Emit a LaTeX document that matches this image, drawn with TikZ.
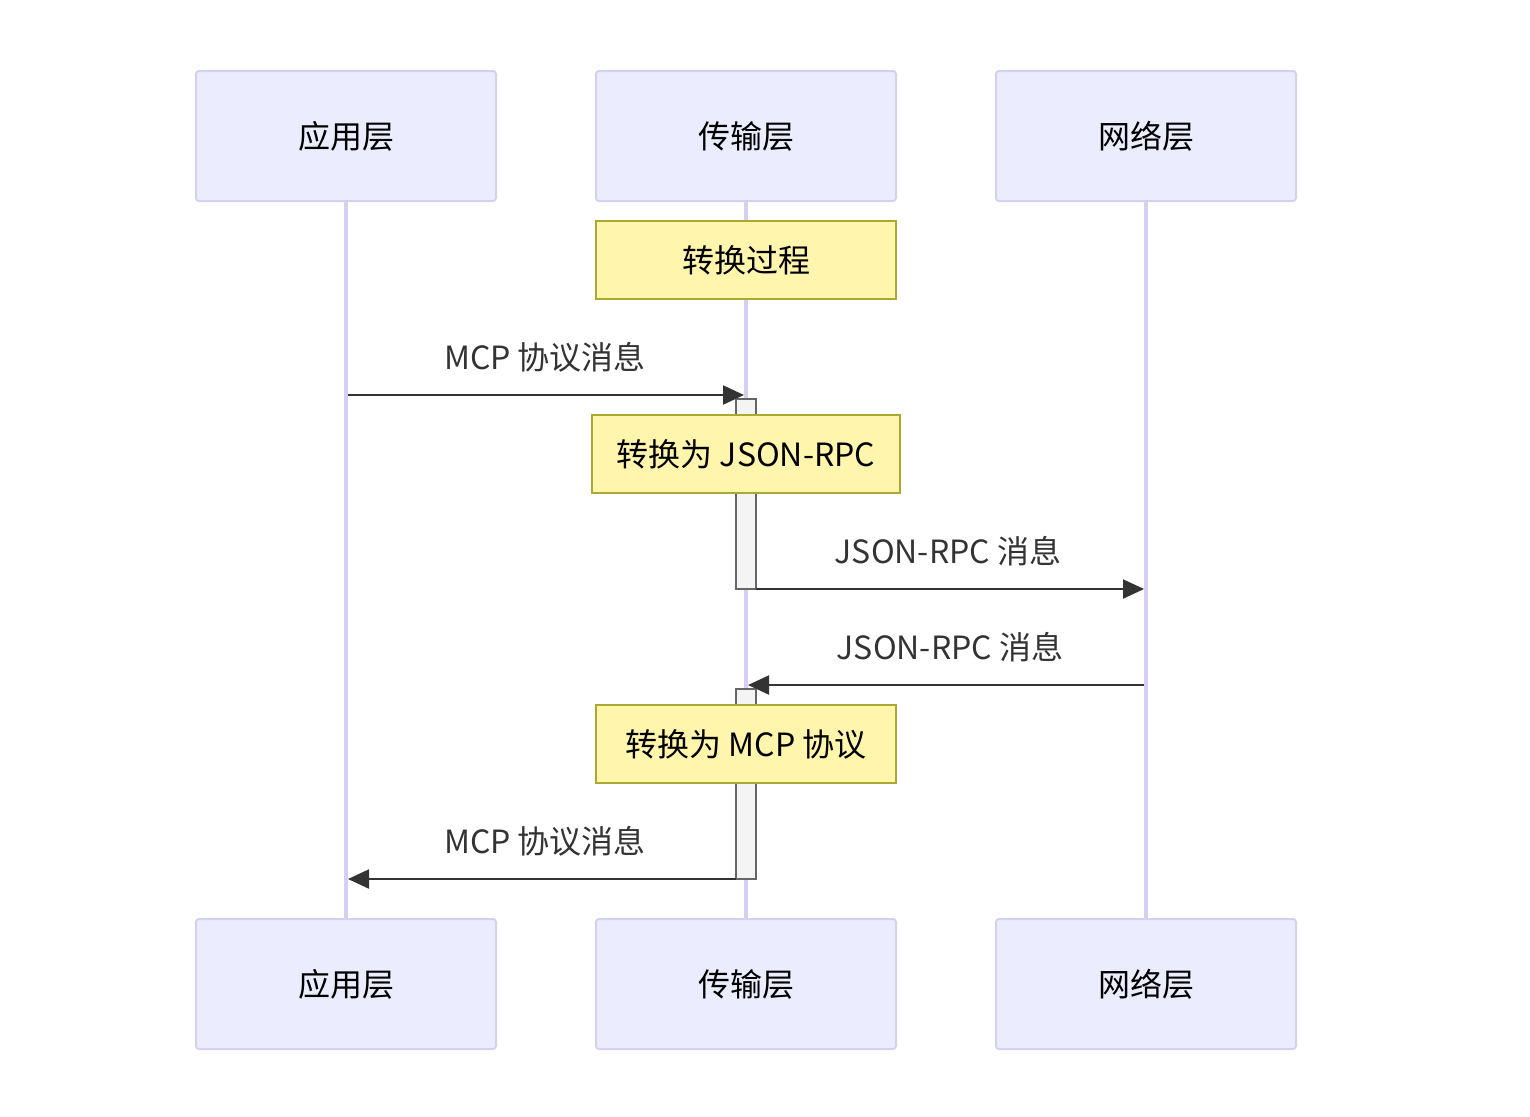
\documentclass[tikz,border=0pt]{standalone}
\usepackage{fontspec}
\setmainfont{Noto Sans CJK SC}
\usetikzlibrary{arrows.meta}
\definecolor{actfill}{HTML}{ECECFF}
\definecolor{actline}{HTML}{D6D0F0}
\definecolor{lifeline}{HTML}{D8CFF0}
\definecolor{notefill}{HTML}{FFF5AD}
\definecolor{noteline}{HTML}{AAAA33}
\definecolor{actvfill}{HTML}{F4F4F4}
\definecolor{actvline}{HTML}{666666}
\definecolor{msgline}{HTML}{333333}
\tikzset{
  actor/.style={draw=actline, fill=actfill, line width=1pt, rounded corners=1.5pt,
    minimum width=150pt, minimum height=65pt, inner sep=0pt, font=\fontsize{16}{18}\selectfont, text=black},
  notebox/.style={draw=noteline, fill=notefill, line width=0.8pt,
    minimum height=39pt, inner sep=0pt, font=\fontsize{16}{18}\selectfont, text=black},
  actv/.style={draw=actvline, fill=actvfill, line width=0.8pt, minimum width=10pt, inner sep=0pt},
  life/.style={draw=lifeline, line width=1.7pt},
  msg/.style={draw=msgline, line width=1.1pt, -{Triangle[length=10.5pt,width=9.5pt]}},
  lbl/.style={font=\fontsize{16}{18}\selectfont, text=msgline, inner sep=0pt}
}
\begin{document}
\begin{tikzpicture}[x=0.5pt,y=-0.5pt]
\useasboundingbox (0,0) rectangle (1530,1116);
% lifelines
\coordinate (l1t) at (346,201); \coordinate (l1b) at (346,919);
\coordinate (l2t) at (746,201); \coordinate (l2b) at (746,919);
\coordinate (l3t) at (1146,201); \coordinate (l3b) at (1146,919);
\draw[life] (l1t) -- (l1b);
\draw[life] (l2t) -- (l2b);
\draw[life] (l3t) -- (l3b);
% actors
\node[actor] (a1) at (346,136) {应用层};
\node[actor] (a2) at (746,136) {传输层};
\node[actor] (a3) at (1146,136) {网络层};
\node[actor] (b1) at (346,984) {应用层};
\node[actor] (b2) at (746,984) {传输层};
\node[actor] (b3) at (1146,984) {网络层};
% note 1
\node[notebox, minimum width=150pt] (n1) at (746,260) {转换过程};
% activations
\node[actv, minimum height=95pt] (v1) at (746,494) {};
\node[actv, minimum height=95pt] (v2) at (746,784) {};
% notes
\node[notebox, minimum width=154pt] (n2) at (746,454) {转换为 JSON-RPC};
\node[notebox, minimum width=150pt] (n3) at (746,744) {转换为 MCP 协议};
% message points
\coordinate (m1s) at (348,395); \coordinate (m1e) at (744,395);
\coordinate (m2s) at (756,589); \coordinate (m2e) at (1144,589);
\coordinate (m3s) at (1144,685); \coordinate (m3e) at (748,685);
\coordinate (m4s) at (736,879); \coordinate (m4e) at (348,879);
\draw[msg] (m1s) -- (m1e);
\draw[msg] (m2s) -- (m2e);
\draw[msg] (m3s) -- (m3e);
\draw[msg] (m4s) -- (m4e);
\node[lbl] (t1) at (545,357) {MCP 协议消息};
\node[lbl] (t2) at (948,551) {JSON-RPC 消息};
\node[lbl] (t3) at (950,647) {JSON-RPC 消息};
\node[lbl] (t4) at (545,841) {MCP 协议消息};
\end{tikzpicture}
\end{document}
